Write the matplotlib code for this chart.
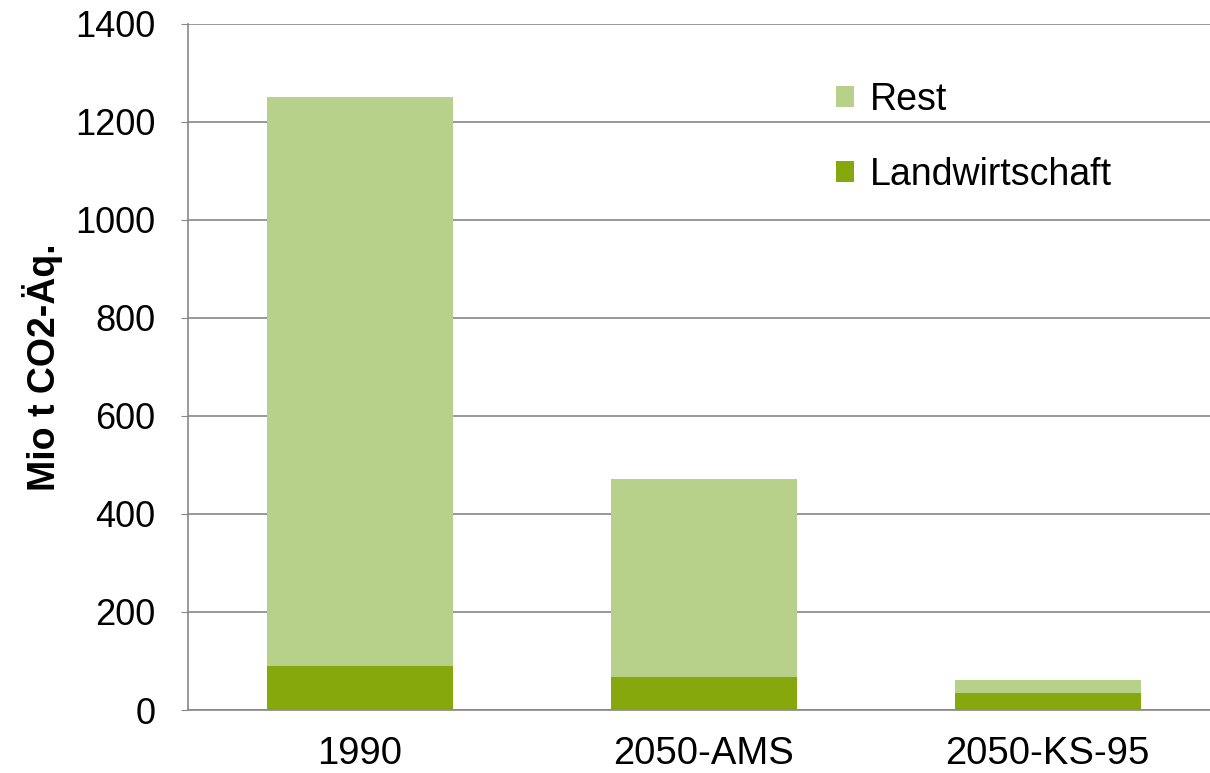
import matplotlib
matplotlib.use('Agg')
import matplotlib.pyplot as plt
import numpy as np

plt.rcParams['font.family'] = ['Liberation Sans', 'DejaVu Sans']

categories = ['1990', '2050-AMS', '2050-KS-95']
landwirtschaft = [89, 67, 35]
rest = [1161, 404, 27]   # on top of Landwirtschaft
yticks = [0, 200, 400, 600, 800, 1000, 1200, 1400]

col_landw = '#86a80c'
col_rest = '#b7d18a'

fig = plt.figure(figsize=(12.1, 7.73), dpi=100)
# plot area runs a little past the right edge of the picture, like the original
ax = fig.add_axes([0.155, 0.0815, 0.853, 0.8875])

x = np.arange(len(categories))
b1 = ax.bar(x, landwirtschaft, width=0.541, color=col_landw, label='Landwirtschaft', zorder=3)
b2 = ax.bar(x, rest, width=0.541, bottom=landwirtschaft, color=col_rest, label='Rest', zorder=3)

ax.set_xlim(-0.5, 2.5)
ax.set_ylim(0, 1400)
ax.set_yticks(yticks)
ax.set_xticks(x)
ax.set_xticklabels(categories)
ax.tick_params(axis='y', labelsize=26, length=5, color='#888888', pad=18)
ax.tick_params(axis='x', labelsize=27.5, length=0, pad=19)
ax.yaxis.grid(True, color='#888888', linewidth=1.2, zorder=0)

for s in ['top', 'right']:
    ax.spines[s].set_visible(False)
for s in ['left', 'bottom']:
    ax.spines[s].set_color('#888888')
    ax.spines[s].set_linewidth(1.2)

ax.set_ylabel('Mio t CO2-Äq.', fontsize=27, fontweight='bold', labelpad=9)

leg = ax.legend([b2, b1], ['Rest', 'Landwirtschaft'], loc='upper left',
                bbox_to_anchor=(0.628, 0.916), frameon=False, fontsize=27,
                handlelength=0.5, handleheight=0.5, handletextpad=0.4,
                labelspacing=1.04, borderpad=0, borderaxespad=0)

fig.savefig('out.png', dpi=100)
